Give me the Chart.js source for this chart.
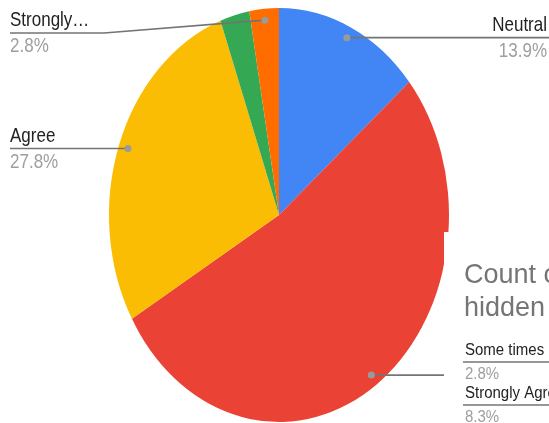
<!DOCTYPE html>
<html>
<head>
<meta charset="utf-8">
<script src="https://cdn.jsdelivr.net/npm/chart.js@4"></script>
<style>
  html, body { margin: 0; padding: 0; background: #fff; }
  #wrap { width: 549px; height: 423px; position: relative; overflow: hidden; }
</style>
</head>
<body>
<div id="wrap"><canvas id="pie"></canvas></div>
<script>
// Survey answers, share of responses (%)
const categories = ['Neutral', 'Disagree', 'Agree', 'Some times', 'Strongly Disagree'];
const shares = [13.9, 52.8, 27.8, 2.8, 2.8];
const sliceColors = ['#4285f4', '#ea4335', '#fbbc04', '#34a853', '#ff6d01'];

// Side panel listing the slices whose labels don't fit
const panelTitle = ['Count of', 'hidden'];
const panelNames = ['Some times', 'Strongly Agree'];
const panelShares = [2.8, 8.3];

const FONT = '"Liberation Sans", Arial, sans-serif';
const stretchY = 207 / 170;   // pie is drawn a bit taller than wide

// Squash the arcs vertically around the pie centre
const ellipse = {
    id: 'ellipse',
    beforeDatasetsDraw(chart) {
        const y = chart.getDatasetMeta(0).data[0].y;
        const ctx = chart.ctx;
        ctx.save();
        ctx.translate(0, y);
        ctx.scale(1, stretchY);
        ctx.translate(0, -y);
    },
    afterDatasetsDraw(chart) {
        chart.ctx.restore();
    }
};

// Point on the slice's middle angle where the leader line starts
function anchor(arc) {
    const mid = (arc.startAngle + arc.endAngle) / 2;
    const r = arc.outerRadius * 0.945;
    return { x: arc.x + Math.cos(mid) * r, y: arc.y + Math.sin(mid) * r * stretchY };
}

function pct(v) { return v.toFixed(1) + '%'; }

const leaders = {
    id: 'leaders',
    afterDraw(chart) {
        const ctx = chart.ctx;
        const arcs = chart.getDatasetMeta(0).data;
        const W = chart.width;

        ctx.save();
        ctx.strokeStyle = '#747474';
        ctx.lineWidth = 1.7;

        function line(pts) {
            ctx.beginPath();
            ctx.moveTo(pts[0][0], pts[0][1]);
            pts.slice(1).forEach(p => ctx.lineTo(p[0], p[1]));
            ctx.stroke();
        }
        function dot(p) {
            ctx.fillStyle = '#9a9a9a';
            ctx.beginPath();
            ctx.arc(p.x, p.y, 3.5, 0, Math.PI * 2);
            ctx.fill();
        }
        // text is a little taller than it is wide
        function text(str, x, y, size, color, align, sy) {
            ctx.save();
            ctx.translate(x, y);
            ctx.scale(1, sy);
            ctx.font = size + 'px ' + FONT;
            ctx.fillStyle = color;
            ctx.textAlign = align;
            ctx.textBaseline = 'alphabetic';
            ctx.fillText(str, 0, 0);
            ctx.restore();
        }
        function label(name, value, x, y, align) {
            text(name, x, y - 7, 17, '#222', align, 1.15);
            text(value, x, y + 19, 17, '#9e9e9e', align, 1.15);
        }

        // Neutral, to the right
        let p = anchor(arcs[0]);
        line([[p.x, p.y], [W, p.y]]);
        dot(p);
        label(categories[0], pct(shares[0]), 547, p.y, 'right');

        // Agree, to the left
        p = anchor(arcs[2]);
        line([[p.x, p.y], [10, p.y]]);
        dot(p);
        label(categories[2], pct(shares[2]), 10, p.y, 'left');

        // Orange sliver, bent line to the left
        p = anchor(arcs[4]);
        line([[p.x, p.y], [104, 33], [10, 33]]);
        dot(p);
        label('Strongly…', pct(shares[4]), 10, 33, 'left');

        // Large slice, runs off under the panel
        p = anchor(arcs[1]);
        line([[p.x, p.y], [W, p.y]]);
        dot(p);

        // panel on top of the chart
        ctx.fillStyle = '#fff';
        ctx.fillRect(444, 232, W - 444, chart.height - 232);

        text(panelTitle[0], 464, 283, 27, '#757575', 'left', 1.05);
        text(panelTitle[1], 464, 316, 27, '#757575', 'left', 1.05);

        panelNames.forEach((name, i) => {
            const base = 355 + i * 43;
            text(name, 465, base, 15, '#222', 'left', 1.15);
            line([[463, base + 7], [W, base + 7]]);
            text(pct(panelShares[i]), 465, base + 24, 15, '#9e9e9e', 'left', 1.15);
        });
        ctx.restore();
    }
};

new Chart(document.getElementById('pie'), {
    type: 'pie',
    data: {
        labels: categories,
        datasets: [{ data: shares, backgroundColor: sliceColors, borderWidth: 0 }]
    },
    options: {
        responsive: true,
        maintainAspectRatio: false,
        animation: false,
        events: [],
        layout: { padding: { left: 109, right: 100, top: 45, bottom: 38 } },
        plugins: {
            legend: { display: false },
            tooltip: { enabled: false },
            title: { display: false }
        }
    },
    plugins: [ellipse, leaders]
});
</script>
</body>
</html>
